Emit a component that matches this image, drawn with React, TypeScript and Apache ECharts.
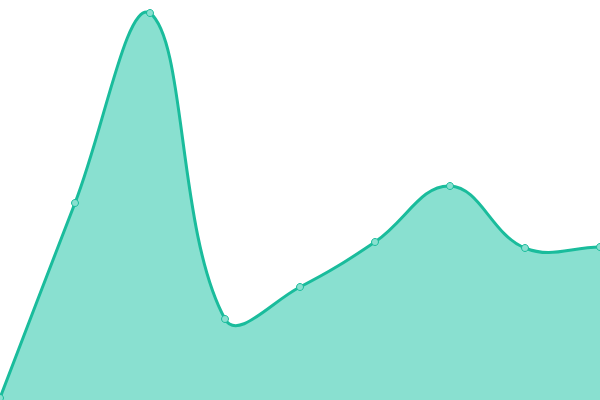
import React, { useEffect, useRef } from 'react';
import * as echarts from 'echarts';

const categories = ['1', '2', '3', '4', '5', '6', '7', '8', '9'];
const values = [2, 197, 387, 81, 113, 158, 214, 152, 153];

const lineColor = '#1abc9c';
const fillColor = '#89e0d0';
const tension = 0.4;

// spline like a cardinal curve, without the extreme clamping echarts' own smooth does
function splinePath(pts: number[][], rect: { x: number; y: number; width: number; height: number }) {
  const cap = (p: number[]) => [
    Math.min(Math.max(p[0], rect.x), rect.x + rect.width),
    Math.min(Math.max(p[1], rect.y), rect.y + rect.height),
  ];
  const cps = pts.map((cur, i) => {
    const prev = pts[i - 1] || cur;
    const next = pts[i + 1] || cur;
    const d01 = Math.hypot(cur[0] - prev[0], cur[1] - prev[1]);
    const d12 = Math.hypot(next[0] - cur[0], next[1] - cur[1]);
    const sum = d01 + d12 || 1;
    const fa = (tension * d01) / sum;
    const fb = (tension * d12) / sum;
    const dx = next[0] - prev[0];
    const dy = next[1] - prev[1];
    return {
      before: cap([cur[0] - fa * dx, cur[1] - fa * dy]),
      after: cap([cur[0] + fb * dx, cur[1] + fb * dy]),
    };
  });
  let d = `M${pts[0][0]},${pts[0][1]}`;
  for (let i = 1; i < pts.length; i++) {
    const a = cps[i - 1].after;
    const b = cps[i].before;
    d += ` C${a[0]},${a[1]} ${b[0]},${b[1]} ${pts[i][0]},${pts[i][1]}`;
  }
  return d;
}

export default function App() {
  const chartRef = useRef<HTMLDivElement>(null);

  useEffect(() => {
    const chart = echarts.init(chartRef.current!, undefined, { renderer: 'svg' });

    chart.setOption({
      animation: false,
      grid: { left: 0, right: 0, top: 0, bottom: 0 },
      xAxis: {
        type: 'category',
        data: categories,
        boundaryGap: false,
        show: false,
      },
      yAxis: {
        type: 'value',
        min: 0,
        max: 400,
        show: false,
      },
      series: [
        {
          type: 'custom',
          data: [[0, 0]],
          clip: true,
          renderItem: (params: any, api: any) => {
            const rect = params.coordSys;
            const pts = values.map((v, i) => api.coord([i, v]));
            const line = splinePath(pts, rect);
            const first = api.coord([0, 0]);
            const last = api.coord([values.length - 1, 0]);
            const area = `${line} L${last[0]},${last[1]} L${first[0]},${first[1]} Z`;
            return {
              type: 'group',
              children: [
                { type: 'path', shape: { pathData: area }, style: { fill: fillColor } },
                {
                  type: 'path',
                  shape: { pathData: line },
                  style: { fill: 'none', stroke: lineColor, lineWidth: 3 },
                },
              ],
            };
          },
        },
        {
          type: 'scatter',
          data: values,
          symbol: 'circle',
          symbolSize: 7,
          z: 3,
          itemStyle: { color: fillColor, borderColor: lineColor, borderWidth: 1, opacity: 1 },
        },
      ],
    });

    return () => {
      chart.dispose();
    };
  }, []);

  return (
    <div
      ref={chartRef}
      style={{ position: 'fixed', left: 0, top: 0, width: '600px', height: '400px', background: 'white' }}
    />
  );
}
